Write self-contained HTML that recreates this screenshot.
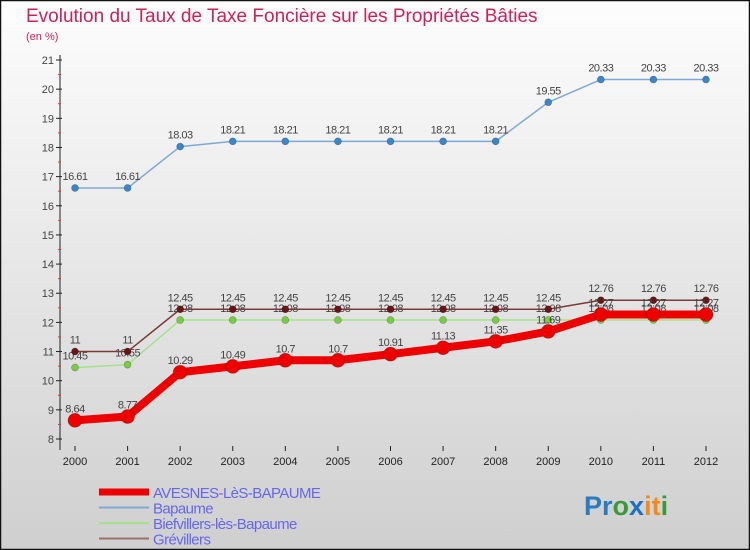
<!DOCTYPE html>
<html><head><meta charset="utf-8"><style>
body{margin:0;width:750px;height:550px;overflow:hidden}
svg{display:block;font-family:"Liberation Sans",sans-serif}
</style></head><body>
<svg width="750" height="550" viewBox="0 0 750 550">
<defs><linearGradient id="bg" x1="0" y1="0" x2="0" y2="1"><stop offset="0" stop-color="#fdfdfd"/><stop offset="1" stop-color="#cfcfcf"/></linearGradient></defs>
<rect x="0.5" y="0.5" width="749" height="549" fill="url(#bg)" stroke="#111" stroke-width="1.5"/>
<text x="26" y="22" font-size="19" fill="#cc2255">Evolution du Taux de Taxe Foncière sur les Propriétés Bâties</text>
<text x="26" y="40" font-size="11" fill="#cc2255">(en %)</text>
<g id="axes"></g><g id="series"></g><g id="legend"></g>
<text x="584" y="515" font-size="27" font-weight="bold"><tspan fill="#2a7bbf">Pr</tspan><tspan fill="#3a9a3a">o</tspan><tspan fill="#1b6fc8">x</tspan><tspan fill="#f08a1c">it</tspan><tspan fill="#3a9a3a">i</tspan></text>
</svg>
<script>
const years=[2000,2001,2002,2003,2004,2005,2006,2007,2008,2009,2010,2011,2012];
const yTicks=[8,9,10,11,12,13,14,15,16,17,18,19,20,21];
const avesnes=[8.64,8.77,10.29,10.49,10.7,10.7,10.91,11.13,11.35,11.69,12.27,12.27,12.27];
const bapaume=[16.61,16.61,18.03,18.21,18.21,18.21,18.21,18.21,18.21,19.55,20.33,20.33,20.33];
const biefvillers=[10.45,10.55,12.08,12.08,12.08,12.08,12.08,12.08,12.08,12.08,12.08,12.08,12.08];
const grevillers=[11,11,12.45,12.45,12.45,12.45,12.45,12.45,12.45,12.45,12.76,12.76,12.76];
const names=["AVESNES-LèS-BAPAUME","Bapaume","Biefvillers-lès-Bapaume","Grévillers"];
const NS="http://www.w3.org/2000/svg";
const xs=i=>75+i*(706-75)/(years.length-1);
const ys=v=>439-(v-8)*(439-60)/13;
function mk(t,a,p){const e=document.createElementNS(NS,t);for(const k in a)e.setAttribute(k,a[k]);p.appendChild(e);return e;}
const ax=document.getElementById('axes');
mk('line',{x1:60,y1:55,x2:60,y2:450,stroke:'#222'},ax);
yTicks.forEach(v=>{const y=ys(v);
 mk('line',{x1:56,y1:y,x2:62,y2:y,stroke:'#222'},ax);
 if(v<21)mk('line',{x1:58,y1:ys(v+0.5),x2:61,y2:ys(v+0.5),stroke:'#e33'},ax);
 const t=mk('text',{x:54,y:y+4,'font-size':11,fill:'#444','text-anchor':'end'},ax);t.textContent=v;
 
 });
years.forEach((yr,i)=>{const x=xs(i);
 mk('line',{x1:x,y1:446,x2:x,y2:451,stroke:'#222'},ax);
 const t=mk('text',{x:x,y:465,'font-size':11,fill:'#222','text-anchor':'middle'},ax);t.textContent=yr;
 
 });
const sg=document.getElementById('series');
function series(data,color,w,r,dot,name){
 const g=mk('g',{},sg);
 
 
 mk('polyline',{points:data.map((v,i)=>xs(i)+','+ys(v)).join(' '),fill:'none',stroke:color,'stroke-width':w,'stroke-linejoin':'round'},g);
 data.forEach((v,i)=>{const c=mk('circle',{cx:xs(i),cy:ys(v),r:r,fill:dot,stroke:'rgba(0,0,0,0.3)','stroke-width':0.6},g);
  
  
  const t=mk('text',{x:xs(i),y:ys(v)-8,'font-size':11,fill:'#444','text-anchor':'middle','letter-spacing':'-0.5'},g);t.textContent=v;
  
  });
}
series(bapaume,'#7fa9d4',1.5,3.5,'#3a86c8','series-bapaume');
series(biefvillers,'#a4e28a',1.5,3.5,'#77cc44','series-biefvillers');
series(grevillers,'#7a3a3a',1.5,3.5,'#6a1515','series-grevillers');
series(avesnes,'#ee0000',8,7,'#ee0000','series-avesnes');
const lg=document.getElementById('legend');
const lc=['#ee0000','#7fa9d4','#a4e28a','#9a7070'],lw=[7,2,2,2];
names.forEach((n,i)=>{const y=492+i*15.5;
 const g=mk('g',{},lg);
 
 
 mk('line',{x1:99,y1:y,x2:149,y2:y,stroke:lc[i],'stroke-width':lw[i]},g);
 const t=mk('text',{x:153,y:y+6,'font-size':15,fill:'#6666ee','letter-spacing':'-0.6'},g);t.textContent=n;});
</script>
</body></html>
